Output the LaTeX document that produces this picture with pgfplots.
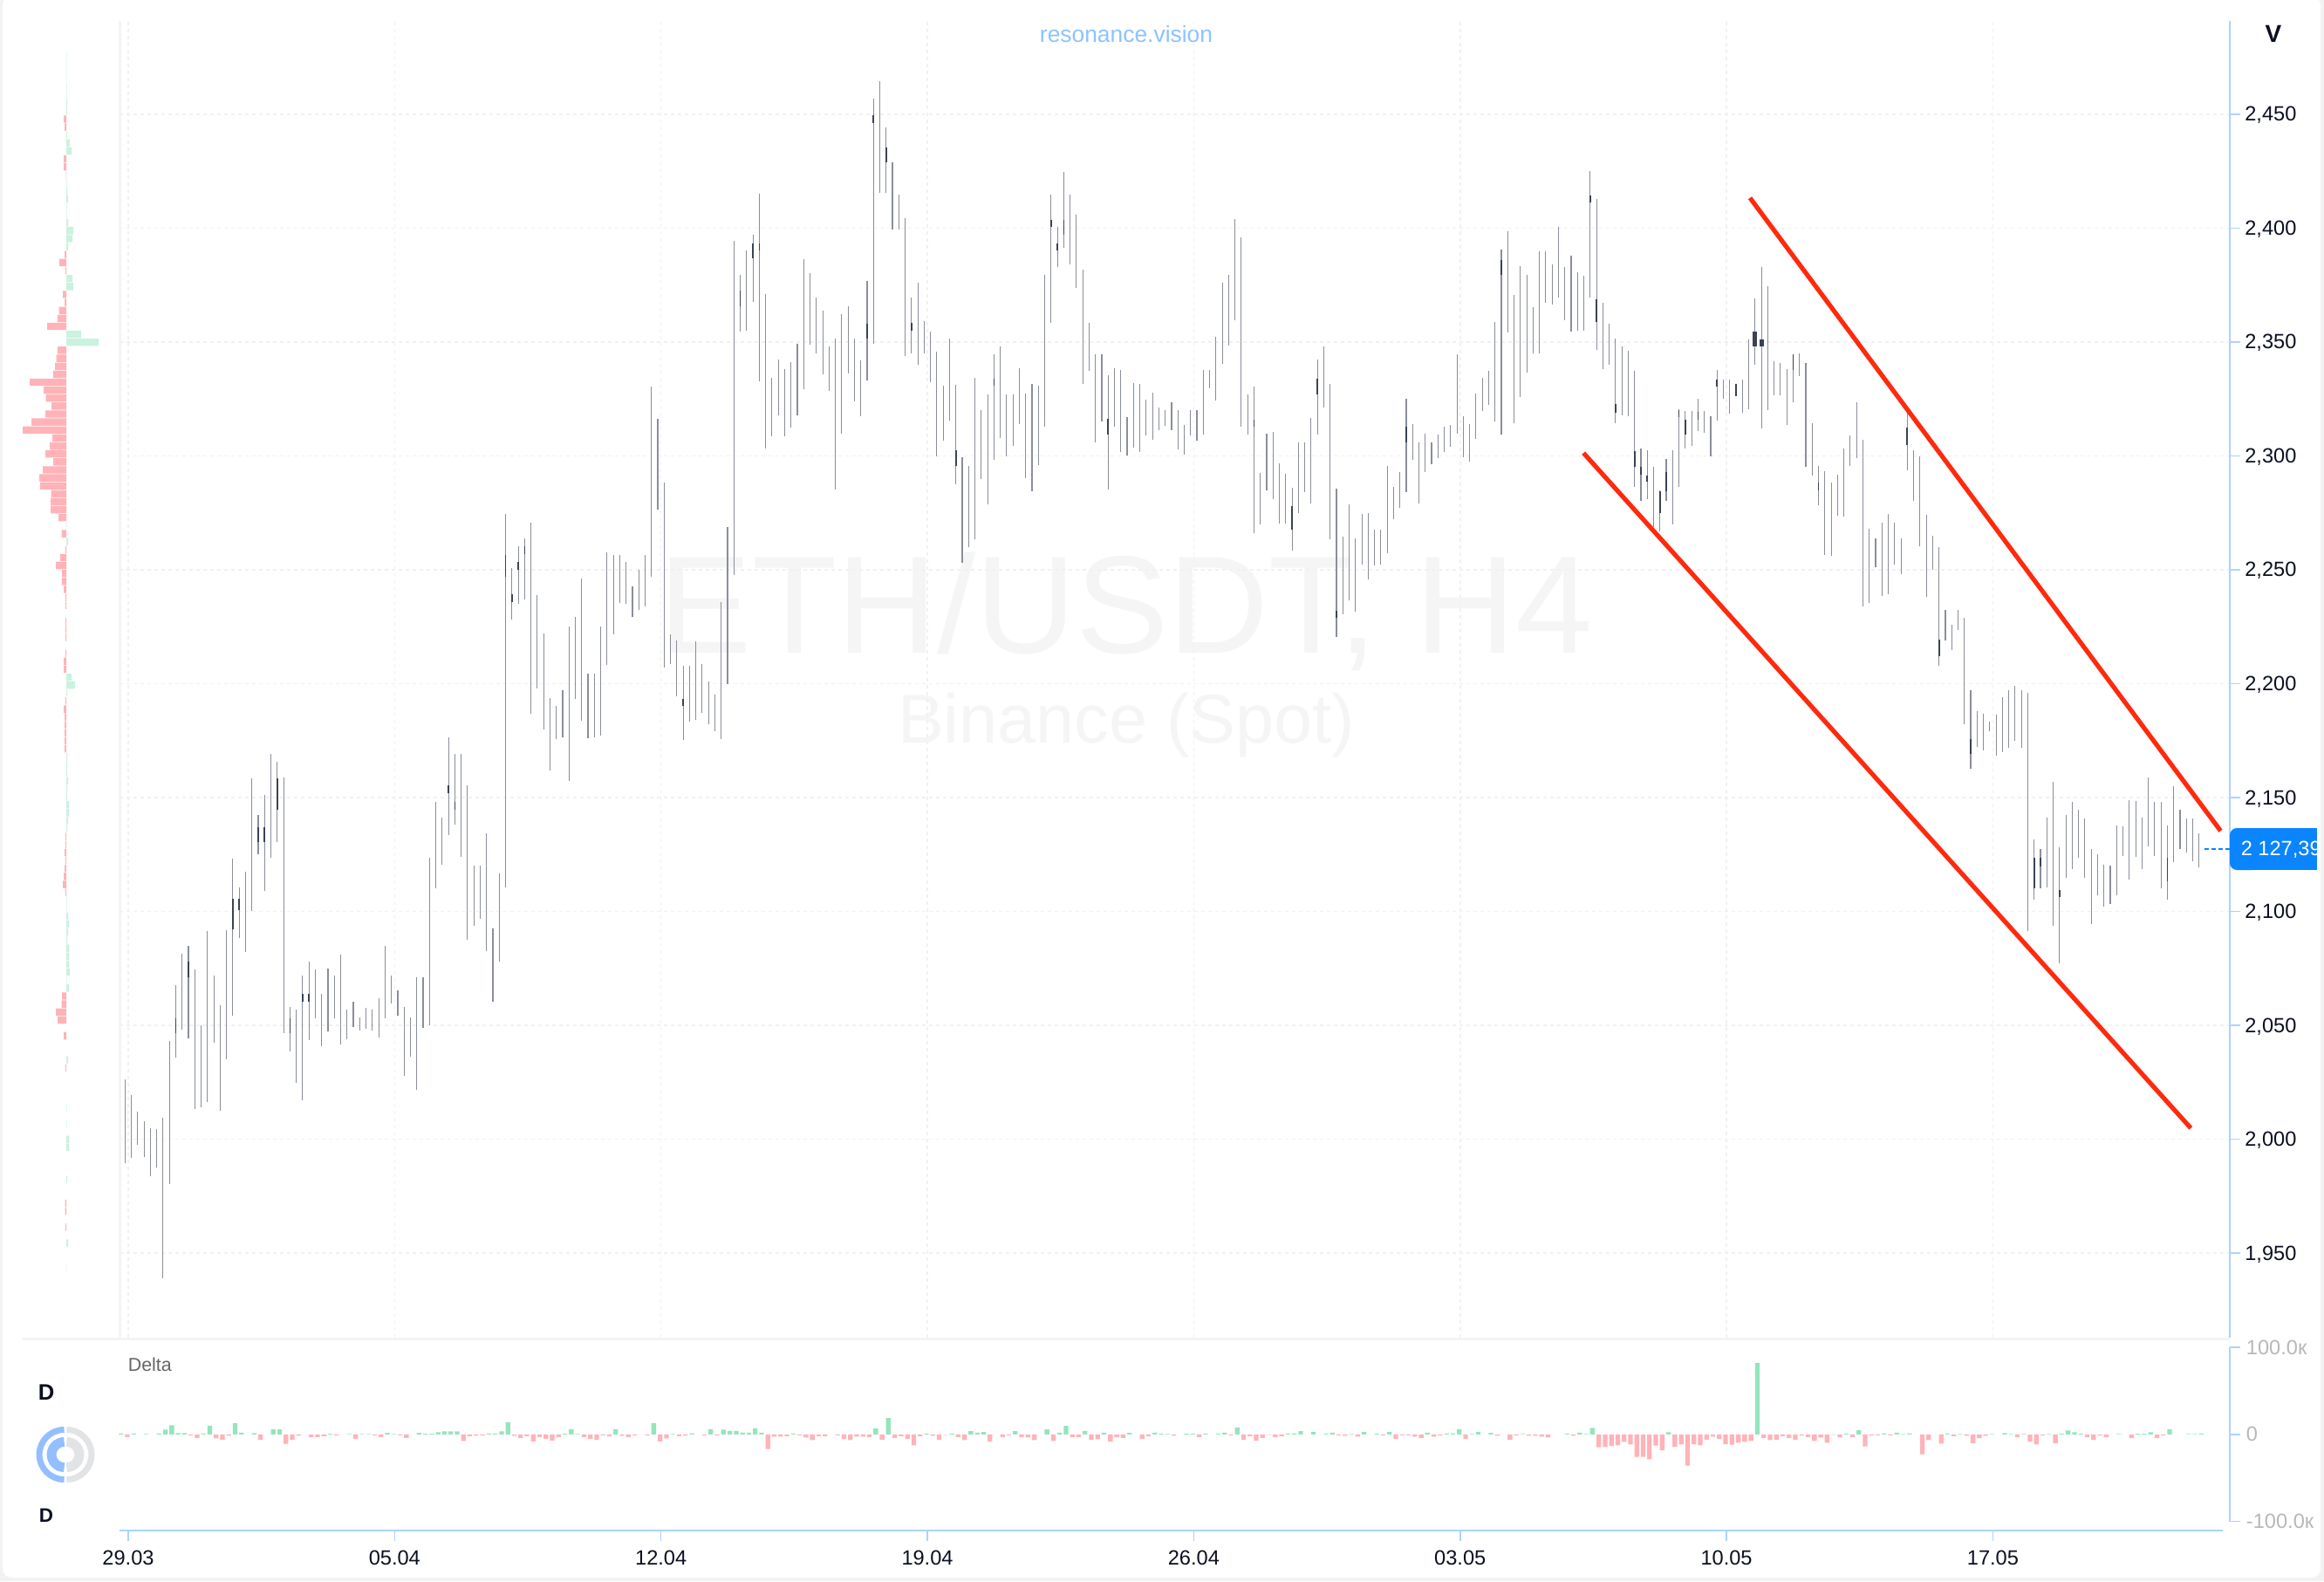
\documentclass[border=0pt]{standalone}
\usepackage{fontspec}
\setmainfont{Liberation Sans}
\usepackage{pgfplots}
\usepackage{pgfplotstable}
\pgfplotsset{compat=1.18}
\definecolor{gridc}{HTML}{F0F1F3}
\definecolor{sepc}{HTML}{F3F4F5}
\definecolor{axblue}{HTML}{ABD3FF}
\definecolor{wick}{HTML}{8A8E9A}
\definecolor{body}{HTML}{3A4254}
\definecolor{redbar}{HTML}{FFB3B8}
\definecolor{grnbar}{HTML}{93E5BC}
\definecolor{grnprof}{HTML}{C9F2DF}
\definecolor{trend}{HTML}{FF2A0D}
\definecolor{lblue}{HTML}{0A84FF}
\definecolor{ink}{HTML}{0B1020}
\definecolor{wm}{HTML}{F5F5F6}
\definecolor{logob}{HTML}{93BFFF}
\definecolor{logog}{HTML}{E2E3E5}
\newcommand{\tickf}{\fontsize{5.9}{7}\selectfont}
\pgfplotstableread{
i l h
0 1989.5 2026.3
1 1991.8 2019.3
2 1997.7 2012.3
3 1992.1 2007.9
4 1983.6 2004.7
5 1987.6 2004.3
6 1938.9 2009.3
7 1980.3 2043.2
8 2035.7 2067.8
9 2048.1 2081.5
10 2044.2 2085.0
11 2013.4 2074.5
12 2014.1 2049.9
13 2016.3 2091.6
14 2042.4 2071.9
15 2012.6 2058.8
16 2035.3 2091.9
17 2054.3 2123.3
18 2088.3 2110.7
19 2082.1 2117.4
20 2100.2 2158.6
21 2125.1 2142.5
22 2108.9 2151.2
23 2123.5 2169.1
24 2130.6 2165.6
25 2046.6 2158.9
26 2038.5 2058.1
27 2024.8 2056.9
28 2017.1 2071.8
29 2043.6 2078.2
30 2053.3 2074.5
31 2040.9 2064.0
32 2047.2 2074.8
33 2053.3 2071.8
34 2041.7 2081.2
35 2043.9 2056.9
36 2049.1 2060.3
37 2047.9 2053.6
38 2048.4 2057.6
39 2047.9 2056.9
40 2044.7 2061.8
41 2053.2 2085.0
42 2059.6 2071.8
43 2054.3 2065.2
44 2028.0 2058.0
45 2036.2 2053.4
46 2021.8 2071.1
47 2048.9 2071.1
48 2050.2 2123.6
49 2110.3 2148.3
50 2120.4 2141.3
51 2133.7 2176.4
52 2138.0 2169.2
53 2124.1 2169.2
54 2087.7 2155.3
55 2093.9 2120.0
56 2096.9 2120.0
57 2082.6 2134.3
58 2060.4 2092.6
59 2077.9 2116.7
60 2110.7 2274.5
61 2228.3 2250.9
62 2234.9 2260.4
63 2237.0 2263.7
64 2186.7 2270.8
65 2198.0 2239.0
66 2179.9 2222.2
67 2162.0 2193.9
68 2175.8 2190.4
69 2176.4 2197.1
70 2157.5 2225.3
71 2193.2 2229.2
72 2183.6 2246.2
73 2176.2 2204.5
74 2176.4 2204.5
75 2177.4 2225.3
76 2208.2 2257.5
77 2221.8 2256.7
78 2235.5 2256.7
79 2234.9 2253.4
80 2229.2 2242.7
81 2232.3 2249.9
82 2233.9 2256.7
83 2246.8 2330.4
84 2276.6 2316.2
85 2207.2 2288.3
86 2208.6 2221.6
87 2194.5 2218.9
88 2175.2 2207.8
89 2183.2 2207.8
90 2184.2 2218.5
91 2187.3 2208.6
92 2182.2 2201.0
93 2179.1 2195.1
94 2175.8 2235.9
95 2200.0 2268.8
96 2247.9 2394.5
97 2354.8 2379.6
98 2355.1 2390.2
99 2367.8 2397.2
100 2332.9 2415.0
101 2303.1 2371.1
102 2308.8 2334.3
103 2317.7 2342.5
104 2308.8 2338.2
105 2312.3 2341.1
106 2317.7 2349.2
107 2329.3 2386.5
108 2348.7 2380.3
109 2344.9 2369.4
110 2336.0 2363.7
111 2328.6 2348.0
112 2285.4 2351.6
113 2309.9 2362.2
114 2336.4 2365.7
115 2324.0 2351.6
116 2317.6 2341.8
117 2333.2 2376.8
118 2349.4 2456.8
119 2415.4 2464.6
120 2415.4 2444.1
121 2399.6 2428.8
122 2399.6 2414.6
123 2343.8 2404.4
124 2345.2 2369.4
125 2340.0 2376.1
126 2344.9 2359.1
127 2332.2 2354.8
128 2300.0 2345.9
129 2306.7 2330.7
130 2315.4 2351.6
131 2287.7 2331.2
132 2253.1 2299.6
133 2259.9 2295.6
134 2263.3 2334.3
135 2290.0 2320.1
136 2278.6 2326.9
137 2298.2 2344.6
138 2307.8 2348.2
139 2300.0 2326.9
140 2304.3 2326.9
141 2314.0 2338.5
142 2290.4 2327.5
143 2284.4 2331.7
144 2296.0 2330.7
145 2313.0 2379.6
146 2358.4 2414.6
147 2383.1 2400.4
148 2391.2 2424.9
149 2384.1 2414.6
150 2373.9 2405.8
151 2331.7 2381.7
152 2337.4 2358.4
153 2306.0 2344.6
154 2315.3 2344.7
155 2285.3 2335.5
156 2313.0 2338.6
157 2301.6 2337.6
158 2300.2 2317.1
159 2303.8 2332.0
160 2301.7 2331.7
161 2308.9 2324.9
162 2307.2 2327.7
163 2311.3 2321.2
164 2313.4 2320.2
165 2311.3 2323.5
166 2303.0 2320.1
167 2300.7 2313.7
168 2308.9 2320.2
169 2306.8 2320.2
170 2309.3 2337.6
171 2329.8 2337.6
172 2324.2 2352.2
173 2340.6 2375.9
174 2348.5 2379.6
175 2359.5 2404.0
176 2313.0 2395.8
177 2309.3 2327.1
178 2266.2 2330.5
179 2270.1 2292.7
180 2284.9 2309.8
181 2281.2 2310.6
182 2270.5 2296.8
183 2270.5 2292.2
184 2258.6 2286.0
185 2275.1 2306.1
186 2284.2 2306.1
187 2279.0 2316.7
188 2309.5 2342.4
189 2321.2 2348.1
190 2263.3 2331.7
191 2220.6 2285.6
192 2230.6 2264.7
193 2236.5 2278.8
194 2231.8 2264.0
195 2252.3 2274.7
196 2245.9 2274.9
197 2251.8 2267.5
198 2252.5 2267.5
199 2257.3 2295.6
200 2272.2 2286.6
201 2277.1 2292.9
202 2284.2 2325.0
203 2298.3 2313.9
204 2279.2 2306.1
205 2293.1 2309.8
206 2296.5 2306.1
207 2299.1 2309.5
208 2301.6 2313.0
209 2304.1 2313.7
210 2309.8 2344.7
211 2299.6 2317.3
212 2297.6 2313.9
213 2307.5 2327.3
214 2319.8 2334.2
215 2322.5 2337.3
216 2315.0 2358.8
217 2309.3 2390.6
218 2354.3 2398.5
219 2314.3 2370.7
220 2325.7 2383.2
221 2336.6 2379.6
222 2344.9 2365.4
223 2345.2 2390.0
224 2367.1 2390.0
225 2366.6 2384.2
226 2369.4 2400.4
227 2359.7 2382.9
228 2354.5 2387.9
229 2355.0 2380.5
230 2355.0 2379.2
231 2369.4 2425.1
232 2346.7 2413.0
233 2338.3 2367.1
234 2340.2 2358.2
235 2314.2 2351.7
236 2317.7 2348.0
237 2317.5 2346.1
238 2286.3 2337.4
239 2280.4 2303.4
240 2281.1 2302.5
241 2268.7 2295.2
242 2267.0 2284.8
243 2280.4 2298.8
244 2270.0 2302.5
245 2286.3 2320.7
246 2303.4 2319.8
247 2304.3 2319.8
248 2310.8 2325.0
249 2310.1 2319.8
250 2299.9 2317.5
251 2315.5 2337.8
252 2325.0 2333.7
253 2318.5 2333.7
254 2326.3 2331.8
255 2318.8 2333.7
256 2320.7 2351.3
257 2340.2 2369.0
258 2312.0 2382.9
259 2320.1 2374.6
260 2326.8 2341.7
261 2326.8 2340.7
262 2313.6 2338.3
263 2323.5 2344.5
264 2335.2 2345.2
265 2295.1 2340.7
266 2291.5 2314.2
267 2278.5 2295.6
268 2256.6 2293.4
269 2256.2 2288.2
270 2273.7 2291.9
271 2273.3 2303.4
272 2295.6 2309.2
273 2299.0 2323.5
274 2234.0 2307.1
275 2235.6 2268.1
276 2251.0 2264.0
277 2238.6 2270.9
278 2239.3 2274.6
279 2252.5 2270.9
280 2248.1 2263.7
281 2293.8 2319.8
282 2280.4 2302.5
283 2260.3 2299.9
284 2238.0 2274.3
285 2250.1 2265.0
286 2207.8 2260.0
287 2218.9 2232.5
288 2214.8 2226.0
289 2223.5 2232.5
290 2182.3 2228.8
291 2162.8 2197.2
292 2172.1 2187.9
293 2170.6 2186.8
294 2179.2 2183.3
295 2168.4 2186.6
296 2170.0 2194.0
297 2172.0 2197.0
298 2175.0 2199.0
299 2172.0 2197.0
300 2091.6 2196.0
301 2105.2 2131.8
302 2110.1 2127.3
303 2110.7 2141.1
304 2093.9 2156.9
305 2077.3 2128.2
306 2114.8 2142.3
307 2118.8 2148.1
308 2123.7 2144.8
309 2114.9 2140.8
310 2094.5 2127.3
311 2107.3 2125.0
312 2102.2 2120.5
313 2103.3 2120.3
314 2107.3 2137.6
315 2124.4 2137.5
316 2113.9 2148.7
317 2124.1 2148.6
318 2118.6 2141.1
319 2128.6 2158.7
320 2124.4 2148.3
321 2110.1 2148.1
322 2105.2 2137.8
323 2121.8 2155.1
324 2127.3 2144.6
325 2125.8 2140.9
326 2122.2 2140.9
327 2119.3 2134.2
}\candles
\pgfplotstableread{
i l h
8 2046.6 2053.2
10 2071.0 2077.9
17 2092.0 2105.7
18 2100.5 2105.7
21 2130.6 2137.0
22 2130.6 2137.0
24 2144.5 2158.3
26 2046.6 2053.2
28 2060.3 2063.7
29 2060.3 2063.7
51 2151.8 2155.3
52 2144.6 2148.3
60 2246.8 2256.5
61 2235.9 2239.4
62 2250.1 2253.4
63 2256.9 2260.2
88 2190.4 2193.5
97 2365.7 2372.5
99 2386.7 2393.3
100 2390.2 2393.3
117 2351.7 2358.1
118 2446.2 2449.7
120 2428.8 2435.6
124 2355.1 2358.4
131 2295.6 2302.4
137 2330.7 2333.9
146 2400.4 2403.7
147 2390.2 2393.3
148 2397.3 2403.7
155 2309.5 2316.4
178 2313.0 2316.1
184 2267.5 2277.8
188 2327.1 2333.9
191 2229.1 2232.2
202 2306.1 2312.7
217 2379.6 2386.2
231 2411.3 2414.5
232 2358.8 2368.6
235 2318.8 2322.9
238 2295.2 2302.1
239 2291.9 2295.2
240 2288.6 2291.5
242 2274.8 2284.5
243 2284.5 2292.8
245 2317.0 2320.3
246 2309.5 2316.0
248 2316.0 2319.4
251 2330.5 2333.7
254 2326.3 2331.8
263 2337.8 2344.5
267 2284.8 2288.2
281 2304.9 2312.3
286 2212.0 2219.5
291 2169.3 2175.8
301 2110.1 2123.5
302 2119.9 2123.5
305 2106.2 2109.4
322 2113.3 2123.5
}\bodies
\begin{document}
\begin{tikzpicture}
\path[use as bounding box] (0pt,0pt) rectangle (666pt,453pt);
\begin{scope}[x=0.25pt,y=0.25pt]
\fill[white!95!black] (0,0) rectangle (2664,1812);
\fill[white,rounded corners=2.5pt] (3,4) rectangle (2660,1816);
\node[text=wm,font=\fontsize{39.8}{41}\selectfont] at (1291,1111) {ETH/USDT, H4};
\node[text=wm,font=\fontsize{19.8}{21}\selectfont] at (1291,981) {Binance (Spot)};
\node[text=axblue!80!lblue,font=\fontsize{6.6}{8}\selectfont] at (1291,1773) {resonance.vision};
\node[text=ink,font=\fontsize{7}{8}\selectfont\bfseries] at (2606,1773) {V};
\draw[sepc,line width=0.75pt] (26,278) -- (2556,278);
\draw[sepc,line width=0.75pt] (137,279) -- (137,1788);
\end{scope}
% volume profile
\begin{axis}[at={(2pt,69.75pt)},anchor=south west,scale only axis,width=32pt,height=377.25pt,
  xmin=-68,xmax=60,ymin=1912.9,ymax=2491,hide axis,xbar,bar width=2.1pt,
  bar shift=0pt]
\addplot[fill=grnprof,draw=none] coordinates {
(0.3,2475.9)(0.3,2472.4)(0.3,2468.9)(0.3,2465.4)(0.5,2461.9)(0.5,2458.4)(1,2454.9)(1,2451.4)
(1,2440.9)(4,2437.4)(6,2433.9)(0.5,2419.9)(1,2416.4)(2,2412.9)(0.5,2409.4)(0.5,2405.9)
(2,2402.4)(8,2398.9)(7,2395.4)(2,2391.9)(7,2377.9)(8,2374.4)(17,2353.4)(37,2349.9)
(0.5,2269.4)(2,2262.4)(6,2202.9)(10,2199.4)(1,2195.9)(1,2167.9)(1,2164.4)(1,2160.9)
(2,2157.4)(1,2153.9)(1,2150.4)(3,2146.9)(3,2143.4)(2,2139.9)(1,2136.4)(0.5,2104.9)
(0.5,2101.4)(2,2097.9)(3,2094.4)(2,2090.9)(1,2087.4)(3,2083.9)(3,2080.4)(3,2076.9)
(4,2073.4)(0.5,2069.9)(3,2066.4)(2,2034.9)(0.5,2013.9)(0.5,2006.9)(3,1999.9)(3,1996.4)
(1,1982.4)(2,1954.4)(0.3,1943.9)};
\addplot[fill=redbar,draw=none] coordinates {
(-3,2447.9)(-2,2444.4)(-3,2430.4)(-3,2426.9)(-0.5,2423.4)(-2,2388.4)(-8,2384.9)(-1,2381.4)
(-4,2370.9)(-2,2367.4)(-8.5,2363.9)(-10,2360.4)(-22,2356.9)(-10,2346.4)(-11.5,2342.9)
(-13,2339.4)(-15,2335.9)(-42,2332.4)(-26,2328.9)(-23.5,2325.4)(-17,2321.9)(-24,2318.4)
(-40,2314.9)(-50,2311.4)(-16,2307.9)(-19,2304.4)(-24,2300.9)(-15,2297.4)(-27,2293.9)
(-31,2290.4)(-30,2286.9)(-17.5,2283.4)(-18,2279.9)(-18,2276.4)(-9,2272.9)(-5.5,2265.9)
(-1,2258.9)(-7,2255.4)(-12,2251.9)(-5,2248.4)(-5,2244.9)(-3,2241.4)(-1,2237.9)(-1,2234.4)
(-1,2227.4)(-1,2223.9)(-1,2220.4)(-1,2213.4)(-3,2209.9)(-3,2206.4)(-1,2192.4)(-3,2188.9)
(-2,2185.4)(-2,2181.9)(-2,2178.4)(-2,2174.9)(-2,2171.4)(-1,2132.9)(-1,2129.4)(-2,2125.9)
(-1,2122.4)(-2,2118.9)(-3,2115.4)(-4,2111.9)(-1,2108.4)(-5,2062.9)(-5.5,2059.4)(-12,2055.9)
(-10,2052.4)(-3,2045.4)(-1,2031.4)(-1.5,1971.9)(-1.5,1968.4)(-1,1961.4)};
\end{axis}
% price chart
\begin{axis}[at={(34.25pt,69.75pt)},anchor=south west,scale only axis,width=604.75pt,height=377.25pt,
  xmin=-0.867,xmax=331.85,ymin=1912.9,ymax=2491,
  axis x line*=bottom,axis y line*=right,
  x axis line style={draw=none,-},y axis line style={draw=axblue,line width=0.5pt,-},
  xtick={0.5,42.5,84.5,126.5,168.5,210.5,252.5,294.5},xticklabels={,,,,,,,},
  xtick style={draw=none},
  ytick={1950,2000,2050,2100,2150,2200,2250,2300,2350,2400,2450},
  ytick style={draw=axblue,line width=0.4pt},major tick length=3pt,tick align=outside,
  y tick label style={font=\tickf,text=ink,anchor=west,xshift=-2.2pt,yshift=-0.3pt,
    /pgf/number format/assume math mode=true,/pgf/number format/fixed,/pgf/number format/1000 sep={,}},
  grid=major,grid style={draw=gridc,line width=0.4pt,dash pattern=on 1pt off 1pt},
  clip=false]
\addplot[draw=none,mark=none,forget plot,error bars/.cd,y dir=plus,y explicit,error mark=none,
  error bar style={draw=wick,line width=0.28pt}]
  table[x=i,y=l,y error expr=\thisrow{h}-\thisrow{l}]{\candles};
\addplot[draw=none,mark=none,forget plot,error bars/.cd,y dir=plus,y explicit,error mark=none,
  error bar style={draw=body,line width=0.42pt}]
  table[x=i,y=l,y error expr=\thisrow{h}-\thisrow{l}]{\bodies};
\addplot[draw=none,mark=none,forget plot,error bars/.cd,y dir=plus,y explicit,error mark=none,
  error bar style={draw=body,line width=1.2pt}]
  table[x=i,y=l,y error expr=\thisrow{h}-\thisrow{l}]{
i l h
257 2348.2 2354.7
258 2348.2 2351.3
};
\addplot[trend,line width=1.3pt] coordinates {(256.2,2413.3)(330.4,2135.4)};
\addplot[trend,line width=1.3pt] coordinates {(229.95,2301.3)(325.7,2004.9)};
\addplot[lblue,line width=0.4pt,dash pattern=on 1.2pt off 0.8pt] coordinates {(327.9,2127.39)(331.85,2127.39)};
\end{axis}
% delta panel
\begin{axis}[at={(34.25pt,14.5pt)},anchor=south west,scale only axis,width=604.75pt,height=52.5pt,
  xmin=-0.234,xmax=332.5,ymin=-110.5,ymax=100,
  axis x line*=bottom,axis y line*=right,
  x axis line style={draw=none,-},y axis line style={draw=none,-},
  xtick={1.14,43.14,85.14,127.14,169.14,211.14,253.14,295.14},
  xticklabels={29.03,05.04,12.04,19.04,26.04,03.05,10.05,17.05},
  xtick style={draw=axblue,line width=0.4pt},
  ytick={-100,0,100},yticklabels={-100.0к,0,100.0к},
  ytick style={draw=axblue,line width=0.4pt},major tick length=3pt,tick align=outside,
  x tick label style={font=\tickf,text=ink,yshift=0.75pt},
  y tick label style={font=\tickf,text=black!28,anchor=west,xshift=-1.8pt},
  ybar,bar width=1.33pt,bar shift=0pt,clip=false]
\addplot[fill=grnbar,draw=none,forget plot] coordinates {
(0,1)(2,1)(4,0.5)(6,1)(7,5.3)(8,10.3)(9,1.3)(10,1.3)(13,1)(14,10)(18,13)(19,2)(21,1.3)
(24,6)(25,5.7)(33,0.7)(36,0.3)(38,0.3)(39,0.3)(42,1.7)(43,0.3)(47,1.7)(48,0.7)(49,0.7)
(50,2.3)(51,3.3)(52,3.3)(53,3.3)(58,1)(59,1)(60,3.3)(61,14)(70,0.7)(71,6)(72,0.5)
(78,6)(84,13)(87,0.5)(90,1.2)(93,6)(95,5.3)(96,4)(97,4)(98,2)(99,2)(100,7)(101,2)(106,0.7)
(119,6.7)(121,18.7)(127,1)(131,1)(134,3.7)(135,2)(136,2.7)(141,3.7)(146,5.7)(148,2)(149,9.7)
(152,4)(155,2)(159,1.7)(163,2)(164,0.7)(165,0.5)(168,0.7)(169,0.7)(171,0.7)(173,0.7)(174,2)
(176,8)(184,0.8)(185,0.8)(186,3.7)(188,2.7)(190,0.7)(191,2)(194,0.5)(196,2.7)(198,0.7)(200,2.7)
(206,2)(209,1)(210,1)(211,6)(213,0.5)(214,2.7)(216,1.7)(221,0.3)(228,0.7)(230,2)(231,0.3)
(232,7.3)(244,2.3)(258,82)(272,0.7)(274,4.7)(278,1)(280,2)(281,0.5)(282,1)(288,0.7)(290,0.5)
(295,0.3)(297,1.5)(298,0.5)(300,0.5)(304,0.5)(306,0.7)(307,4.3)(308,2.3)(309,0.7)(315,0.3)
(318,0.7)(319,0.7)(320,2.3)(323,6)(326,0.3)(327,0.3)(328,1)};
\addplot[fill=redbar,draw=none,forget plot] coordinates {
(1,-3)(11,-1)(12,-4)(15,-4.7)(16,-6)(17,-1.5)(22,-6)(26,-11)(27,-6.3)(28,-1.5)(30,-3)(31,-3)
(32,-2)(34,-1)(37,-5)(40,-1)(41,-3)(44,-1)(45,-4)(54,-7.5)(55,-2)(56,-1.5)(57,-1)(62,-1.5)
(63,-4)(64,-2)(65,-8)(66,-3)(67,-5)(68,-7)(69,-3)(73,-3)(74,-5)(75,-6)(76,-1)(77,-2)(79,-1.5)
(80,-3)(81,-1)(83,-1)(85,-8)(86,-4.5)(88,-2)(89,-1.5)(92,-1)(94,-1)(102,-17)(103,-2.5)(104,-2.5)
(105,-2)(107,-1)(108,-3.7)(109,-6.7)(110,-2)(111,-2)(113,-1)(114,-5)(115,-6.7)(116,-2.5)
(117,-2.5)(118,-3)(120,-6)(122,-4)(123,-2)(124,-5)(125,-12.7)(126,-2)(128,-1.5)(129,-6)(130,-0.5)
(132,-3)(133,-6.7)(137,-8)(139,-3)(140,-1)(142,-3)(143,-3.7)(144,-6.7)(147,-7.7)(150,-3)(151,-3)
(153,-6.3)(154,-5.7)(156,-8)(157,-3)(158,-4)(161,-5)(162,-2.3)(166,-1.5)(170,-3)(175,-1)(177,-6)
(178,-2)(179,-7.3)(180,-4)(181,-0.7)(182,-3)(183,-2)(192,-1)(193,-1.5)(195,-2.5)(199,-1)(201,-5)
(202,-1)(203,-1)(204,-2.5)(205,-4)(207,-2.5)(208,-1)(212,-5)(217,-1.5)(219,-6.3)(220,-1)
(222,-1.7)(223,-1.7)(224,-2.5)(225,-3.7)(229,-1.7)(233,-15)(234,-14.7)(235,-13.3)(236,-12.7)
(237,-8.7)(238,-11.7)(239,-26)(240,-26)(241,-28.7)(242,-13)(243,-18.3)(245,-14.3)(246,-11.7)
(247,-36)(248,-11.3)(249,-12.7)(250,-6)(251,-2.7)(252,-5)(253,-11.3)(254,-12)(255,-9.7)(256,-8.7)
(257,-7.7)(259,-4)(260,-6.7)(261,-6)(262,-2)(263,-4)(264,-6)(265,-1.3)(266,-3)(267,-7.7)(268,-3.7)
(269,-9.7)(270,-0.7)(271,-3.7)(273,-3)(275,-14)(276,-1.3)(277,-1)(279,-1)(284,-23)(285,-6.7)
(287,-10.7)(289,-2)(291,-1.7)(292,-10)(293,-4.3)(294,-1.7)(299,-3)(301,-8.3)(302,-11.7)(303,-1.3)
(305,-10)(310,-3.3)(311,-6.3)(312,-1)(313,-3)(317,-4.3)(321,-4.3)(322,-1)};
\end{axis}
\begin{scope}[x=0.25pt,y=0.25pt]
% last price label
\fill[lblue,rounded corners=2pt] (2556,815) rectangle (2590,863);
\fill[lblue] (2570,815) rectangle (2656,863);
\begin{scope}
\clip (2556,815) rectangle (2656,863);
\node[anchor=west,text=white,font=\tickf,inner sep=0pt] at (2568,838) {2 127,39};
\end{scope}
% delta axis lines
\draw[axblue,line width=0.5pt] (137,58) -- (2548,58);
\draw[axblue,line width=0.5pt] (2556,68) -- (2556,268);
% labels and logo
\node[anchor=west,text=black!60,inner sep=0pt,font=\fontsize{5.35}{6.5}\selectfont] at (146,248) {Delta};
\node[text=ink,inner sep=0pt,font=\fontsize{6.4}{7.5}\selectfont\bfseries] at (53,216) {D};
\node[text=ink,inner sep=0pt,font=\fontsize{5.6}{7}\selectfont\bfseries] at (53,75) {D};
\draw[logob,line width=1.75pt] (73.6,173.5) arc (90:270:28.5);
\draw[logob,line width=2.75pt] (73.6,159.5) arc (90:270:14.5);
\draw[logog,line width=1.75pt] (76.4,116.5) arc (-90:90:28.5);
\draw[logog,line width=2.75pt] (76.4,130.5) arc (-90:90:14.5);
\end{scope}
\end{tikzpicture}
\end{document}
